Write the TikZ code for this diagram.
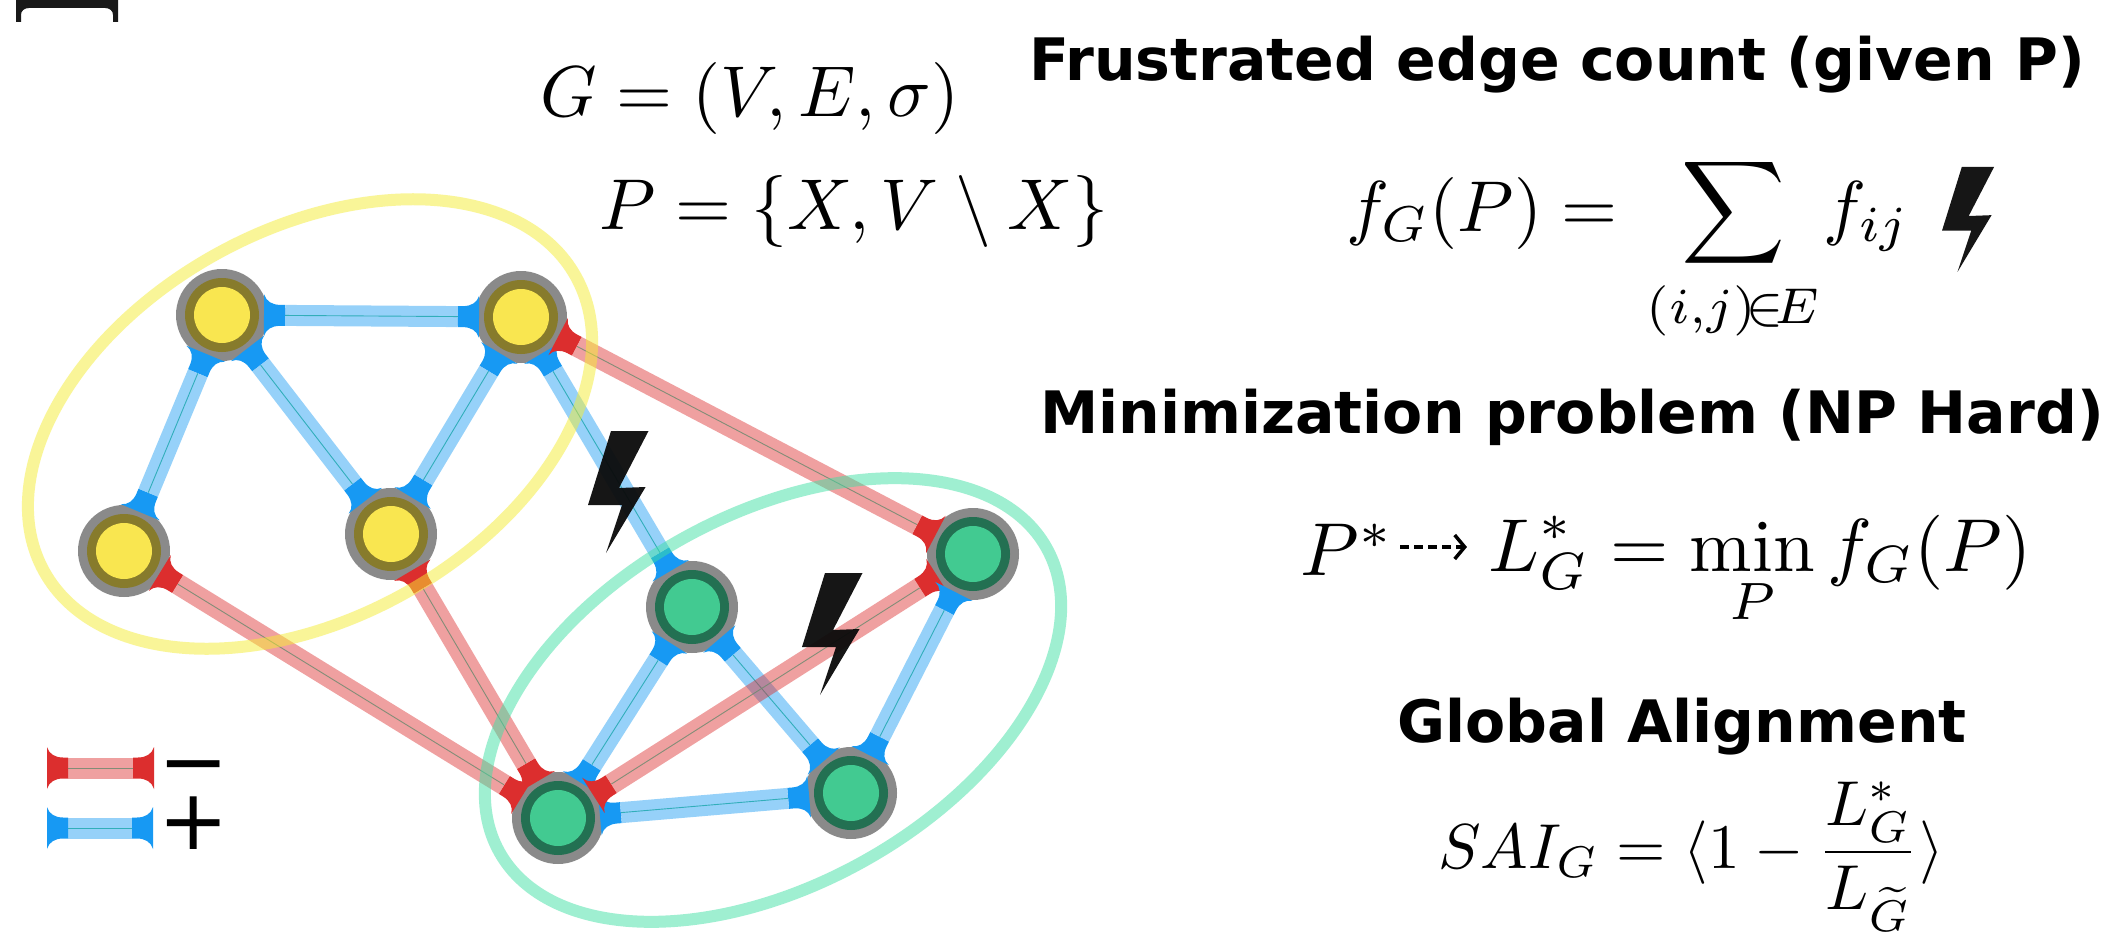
\documentclass[tikz,border=0pt]{standalone}
\usepackage{amsmath,amssymb}
\usepackage{fontspec}
\newfontfamily\djv{DejaVu Sans}
\usetikzlibrary{arrows.meta,calc}
\definecolor{bluedark}{HTML}{1799F3}
\definecolor{reddark}{HTML}{DC2E2E}
\definecolor{bluedarkline}{HTML}{20A8B0}
\definecolor{reddarkline}{HTML}{6F8A70}
\definecolor{rimgrey}{HTML}{8A8A8A}
\definecolor{olive}{HTML}{877B2C}
\definecolor{corey}{HTML}{F9E650}
\definecolor{ring}{HTML}{237052}
\definecolor{coreg}{HTML}{42CA91}
\definecolor{ringy}{HTML}{F5ED33}
\definecolor{ringg}{HTML}{40E0A5}
\definecolor{boltc}{HTML}{0A0A0A}
\tikzset{
  gnode/.style={circle,fill=rimgrey,minimum size=92pt,inner sep=0pt},
  flare/.style={insert path={(42,-21) .. controls (44,-14) and (50,-10.5) .. (58,-10.5) -- (63,-10.5) -- (63,10.5) -- (58,10.5) .. controls (50,10.5) and (44,14) .. (42,21) -- cycle}},
  boltshape/.style={insert path={(825,573) -- (862.5,573) -- (833,630) -- (859.6,629) -- (820,695) -- (836,647) -- (802,647) -- cycle}},
  head/.style={font=\djv\bfseries\fontsize{58.5}{64}\selectfont,inner sep=0pt,text=black},
  mathn/.style={scale=7.2,inner sep=0pt,text=black},
  sym/.style={font=\djv\fontsize{84}{84}\selectfont,inner sep=0pt,text=black}
}
\newcommand\sedge[4]{%
  \pgfmathanglebetweenpoints{\pgfpointanchor{#2}{center}}{\pgfpointanchor{#3}{center}}%
  \let\edgeang\pgfmathresult
  \draw[line width=21pt,draw=#1,opacity=.45,shorten <=#4,shorten >=#4] (#2) -- (#3);
  \draw[line width=.9pt,draw=#1line,opacity=.85,shorten <=#4,shorten >=#4] (#2) -- (#3);
  \path[fill=#1,shift={(#2)},rotate=\edgeang,flare];
  \path[fill=#1,shift={(#3)},rotate=\edgeang+180,flare];
}
\begin{document}
\begin{tikzpicture}[x=1pt,y=-1pt]
\useasboundingbox[fill=white] (0,0) rectangle (2108,936);
% top-left cropped bracket
\fill[fill=black!90,even odd rule] (16,0) -- (118,0) -- (118,22) -- (113,22) -- (113,15) .. controls (113,11) and (110,8) .. (105,8) -- (29,8) .. controls (24,8) and (21,11) .. (21,15) -- (21,22) -- (16,22) -- cycle;
% nodes
\foreach \n/\x/\y in {n1/222/315,n2/521/317,n3/124/551,n4/391/534,g1/692/607,g2/973/554,g3/558/818,g4/851/793}
  \node[gnode] (\n) at (\x,\y) {};
% edges
\sedge{bluedark}{n1}{n2}{17pt}
\sedge{bluedark}{n1}{n3}{17pt}
\sedge{bluedark}{n1}{n4}{17pt}
\sedge{bluedark}{n2}{n4}{17pt}
\sedge{bluedark}{n2}{g1}{17pt}
\sedge{reddark}{n2}{g2}{17pt}
\sedge{reddark}{n3}{g3}{17pt}
\sedge{reddark}{n4}{g3}{17pt}
\sedge{bluedark}{g1}{g3}{17pt}
\sedge{bluedark}{g1}{g4}{17pt}
\sedge{bluedark}{g3}{g4}{17pt}
\sedge{reddark}{g3}{g2}{17pt}
\sedge{bluedark}{g2}{g4}{17pt}
% node interiors
\foreach \n in {n1,n2,n3,n4} {
  \fill[olive] (\n) circle (37);
  \fill[corey] (\n) circle (28);
}
\foreach \n in {g1,g2,g3,g4} {
  \fill[ring] (\n) circle (37);
  \fill[coreg] (\n) circle (28);
}
% group outlines
\draw[ringy,opacity=.5,line width=12pt] (310,424) ellipse [x radius=304,y radius=194,rotate=29];
\draw[ringg,opacity=.5,line width=12pt] (773,700) ellipse [x radius=313,y radius=185,rotate=29];
% bolts
\path[fill=boltc,opacity=.95,shift={(-214,-142)},boltshape];
\path[fill=boltc,opacity=.95,boltshape];
% legend
\coordinate (la) at (5,768);
\coordinate (lb) at (196,768);
\coordinate (lc) at (5,828);
\coordinate (ld) at (195,828);
\sedge{reddark}{la}{lb}{63pt}
\sedge{bluedark}{lc}{ld}{63pt}
\node[sym] (lm) at (193.5,776) {−};
\node[sym] (lp) at (193.5,823) {+};
% formulas
\node[mathn] (fg) at (750,99) {$G=(V,E,\sigma)$};
\node[mathn] (fp) at (854,211) {$P=\{X,V\setminus X\}$};
\node[head] (h1) at (1557,65) {Frustrated edge count (given P)};
\node[mathn,anchor=base] (fs) at (1628,231) {$\displaystyle f_G(P)=\hspace{6pt}\sum_{\smash{\raisebox{-1.4pt}{\makebox[0pt]{$\scriptstyle(i,j)\!\in\! E$}}}}\hspace{3.7pt} f_{ij}$};
\path[fill=boltc,opacity=.95,shift={(1942,167)},scale=.86,shift={(-802,-573)},boltshape];
\node[head] (h2) at (1572,417) {Minimization problem (NP Hard)};
\node[mathn,scale=7.5/7.2] (ps) at (1347,550) {$P^*$};
\node[mathn,scale=7.5/7.2] (lg) at (1760,571) {$\displaystyle L_G^*=\min_P f_G(P)$};
\draw[line width=4.5pt,dash pattern=on 9pt off 5pt,shorten <=5pt,shorten >=20pt,-{Straight Barb[length=10pt,width=24pt,line width=3.5pt]}] (ps.east |- 0,547) -- (lg.west |- 0,547);
\node[head] (h3) at (1682,727) {Global Alignment};
\node[mathn,scale=6.35/7.2,anchor=base] (fa) at (1691,868) {$\displaystyle SAI_G=\langle 1-\frac{L_G^*}{\smash{\raisebox{.3pt}{$L_{\widetilde{G}}$}}}\rangle$};
\end{tikzpicture}
\end{document}
